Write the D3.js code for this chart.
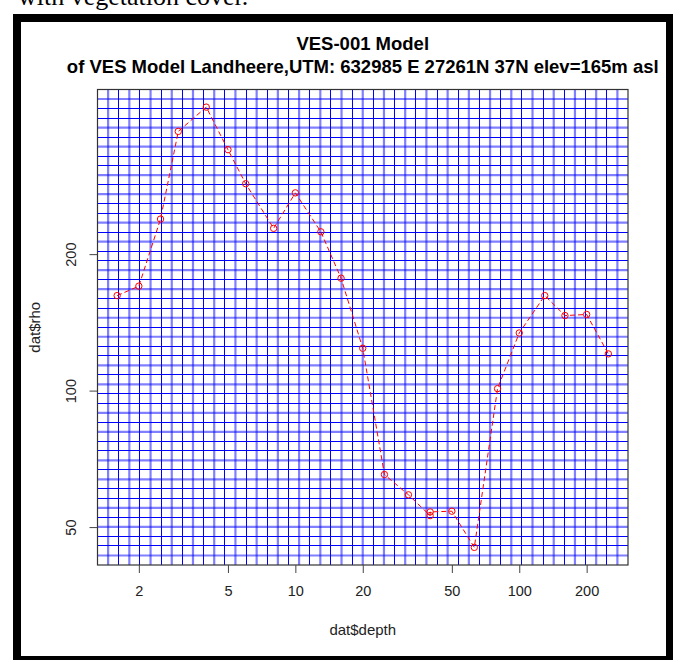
<!DOCTYPE html>
<html>
<head>
<meta charset="utf-8">
<script src="https://cdn.jsdelivr.net/npm/d3@7/dist/d3.min.js"></script>
<style>
  html, body { margin: 0; padding: 0; background: #fff; }
  svg { display: block; }
  text { font-family: "Liberation Sans", Arial, sans-serif; }
</style>
</head>
<body>
<svg id="chart" width="679" height="660"></svg>
<script>
// ---- data ----
const depth = [1.6, 2, 2.5, 3, 4, 5, 6, 8, 10, 13, 16, 20, 25, 32, 40, 40, 50, 63, 80, 100, 130, 160, 200, 250];
const rho   = [162, 170, 239, 373, 422, 340, 286, 228, 273, 224, 177, 124, 65.3, 58.9, 53.0, 54.0, 54.2, 45.1, 101, 134, 162, 146.4, 147.2, 120.5];
const xTicks = [2, 5, 10, 20, 50, 100, 200];
const yTicks = [50, 100, 200];
const titleLine1 = "VES-001 Model";
const titleLine2 = "of VES Model Landheere,UTM: 632985 E 27261N 37N elev=165m asl";
const xLabel = "dat$depth";
const yLabel = "dat$rho";
const captionText = "with vegetation cover.";

// ---- layout ----
const W = 679, H = 660;
const plot = { left: 97.5, right: 628, top: 89.5, bottom: 565 };
const gridN = 50;

const svg = d3.select("#chart");
svg.append("rect").attr("width", W).attr("height", H).attr("fill", "#fff");

// R-style 4% padded log domain
function padLog(vals) {
  const lo = Math.log10(d3.min(vals)), hi = Math.log10(d3.max(vals));
  const p = (hi - lo) * 0.04;
  return [Math.pow(10, lo - p), Math.pow(10, hi + p)];
}
const x = d3.scaleLog().domain(padLog(depth)).range([plot.left, plot.right]);
const y = d3.scaleLog().domain(padLog(rho)).range([plot.bottom, plot.top]);

// caption fragment at the top (cut off in the reference too)
svg.append("text").attr("x", 18).attr("y", 5)
  .style("font-family", "'Liberation Serif', 'Times New Roman', serif")
  .style("font-size", "26px").attr("fill", "#000").text(captionText);

// frame
const frame = svg.append("g").attr("fill", "#000");
frame.append("rect").attr("x", 13).attr("y", 14).attr("width", 660).attr("height", 8);
frame.append("rect").attr("x", 13).attr("y", 14).attr("width", 8).attr("height", 650);
frame.append("rect").attr("x", 666).attr("y", 14).attr("width", 7).attr("height", 650);
frame.append("rect").attr("x", 13).attr("y", 656).attr("width", 660).attr("height", 8);

// grid (evenly spaced in pixel space, like R grid(50,50))
const gridG = svg.append("g");
const pw = plot.right - plot.left, ph = plot.bottom - plot.top;
const hPattern = [false, true, false, false, true]; // index k%5 -> light?
for (let k = 1; k < gridN; k++) {
  const gx = plot.left + pw * k / gridN;
  const light = (k % 2 === 1);
  gridG.append("line")
    .attr("x1", light ? gx : Math.floor(gx) + 0.5).attr("x2", light ? gx : Math.floor(gx) + 0.5)
    .attr("y1", plot.top).attr("y2", plot.bottom)
    .attr("stroke", "#0000ff")
    .attr("stroke-width", light ? 2.2 : 1)
    .attr("stroke-opacity", light ? 0.5 : 1)
    .attr("shape-rendering", light ? "auto" : "crispEdges");
}
for (let k = 1; k < gridN; k++) {
  const gy = plot.top + ph * k / gridN;
  const light = hPattern[k % 5];
  gridG.append("line")
    .attr("y1", light ? gy : Math.floor(gy) + 0.5).attr("y2", light ? gy : Math.floor(gy) + 0.5)
    .attr("x1", plot.left).attr("x2", plot.right)
    .attr("stroke", "#0000ff")
    .attr("stroke-width", light ? 2.2 : 1)
    .attr("stroke-opacity", light ? 0.5 : 1)
    .attr("shape-rendering", light ? "auto" : "crispEdges");
}

// data line + points
const pts = depth.map((d, i) => [d, rho[i]]);
svg.append("path")
  .datum(pts)
  .attr("fill", "none")
  .attr("stroke", "#ff0000")
  .attr("stroke-width", 1)
  .attr("stroke-dasharray", "5,3")
  .attr("d", d3.line().x(d => x(d[0])).y(d => y(d[1])));
svg.append("g").selectAll("circle").data(pts).join("circle")
  .attr("cx", d => x(d[0])).attr("cy", d => y(d[1])).attr("r", 3.2)
  .attr("fill", "none").attr("stroke", "#ff0000").attr("stroke-width", 1);

// box
svg.append("rect")
  .attr("x", plot.left).attr("y", plot.top).attr("width", pw).attr("height", ph)
  .attr("fill", "none").attr("stroke", "#333").attr("stroke-width", 1.2);

// axes
const xAxis = svg.append("g").attr("transform", `translate(0,${plot.bottom})`)
  .call(d3.axisBottom(x).tickValues(xTicks).tickFormat(d3.format("d")).tickSize(8).tickPadding(13));
xAxis.select(".domain").remove();
xAxis.selectAll("line").attr("stroke", "#444");
xAxis.selectAll("text").style("font-size", "14.5px").style("font-family", "'Liberation Sans', Arial, sans-serif").attr("fill", "#222");

const yAxis = svg.append("g").attr("transform", `translate(${plot.left},0)`)
  .call(d3.axisLeft(y).tickValues(yTicks).tickFormat(d3.format("d")).tickSize(8));
yAxis.select(".domain").remove();
yAxis.selectAll("line").attr("stroke", "#444");
yAxis.selectAll("text")
  .attr("transform", "rotate(-90)").attr("x", 0).attr("y", -22).attr("dy", 0)
  .attr("text-anchor", "middle")
  .style("font-size", "14.5px").style("font-family", "'Liberation Sans', Arial, sans-serif").attr("fill", "#222");

// titles
const cx = (plot.left + plot.right) / 2;
svg.append("text").attr("x", cx).attr("y", 50).attr("text-anchor", "middle")
  .style("font-size", "18.5px").style("font-weight", "bold").attr("fill", "#000").text(titleLine1);
svg.append("text").attr("x", cx).attr("y", 73).attr("text-anchor", "middle")
  .style("font-size", "18.5px").style("font-weight", "bold").attr("fill", "#000").text(titleLine2);

svg.append("text").attr("x", cx).attr("y", 635).attr("text-anchor", "middle")
  .style("font-size", "15px").attr("fill", "#222").text(xLabel);
svg.append("text").attr("transform", `translate(40,${(plot.top + plot.bottom) / 2}) rotate(-90)`)
  .attr("text-anchor", "middle")
  .style("font-size", "15px").attr("fill", "#222").text(yLabel);
</script>
</body>
</html>
